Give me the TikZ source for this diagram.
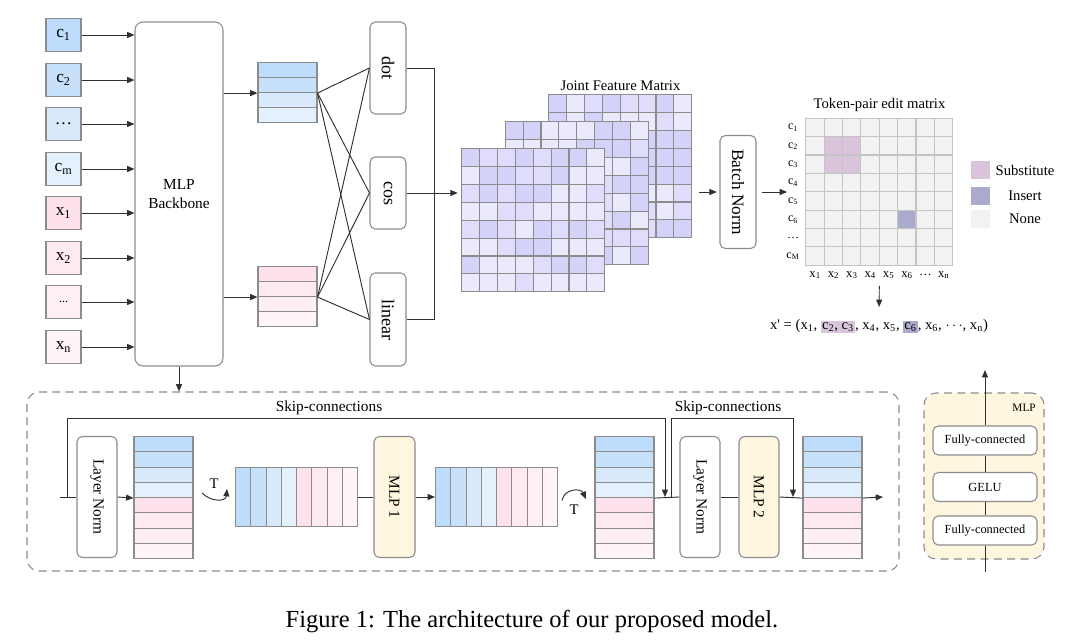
\documentclass[tikz,border=0pt]{standalone}
\usepackage{fontspec}
\setmainfont{Liberation Serif}
\usepackage{graphicx}
\usetikzlibrary{arrows.meta}

\definecolor{boxline}{HTML}{8C8C8C}
\definecolor{wire}{HTML}{303030}
\definecolor{bA}{HTML}{BEDCFB}
\definecolor{bB}{HTML}{C7E1FB}
\definecolor{bC}{HTML}{D8E9FC}
\definecolor{bD}{HTML}{E5F0FD}
\definecolor{pA}{HTML}{FDE2EE}
\definecolor{pB}{HTML}{FDE9F2}
\definecolor{pC}{HTML}{FEEEF5}
\definecolor{pD}{HTML}{FFF4F9}
\definecolor{lav1}{HTML}{D5D2FA}
\definecolor{lav2}{HTML}{DFDDFB}
\definecolor{lav3}{HTML}{EBEAFD}
\definecolor{cream}{HTML}{FEF6DE}
\definecolor{tmcell}{HTML}{F2F2F2}
\definecolor{tmline}{HTML}{C4C4C4}
\definecolor{subst}{HTML}{D9C4DC}
\definecolor{insrt}{HTML}{A9AACC}

\newdimen\px \px=0.75pt
\newcommand{\fsz}[1]{\fontsize{#1}{#1}\selectfont}
\newcommand{\hlsub}[1]{{\setlength{\fboxsep}{0.8pt}\colorbox{subst}{#1}}}
\newcommand{\hlins}[1]{{\setlength{\fboxsep}{0.8pt}\colorbox{insrt}{#1}}}

\begin{document}
\begin{tikzpicture}[
  x=0.75pt, y=-0.75pt,
  line/.style={draw=wire, line width=0.7pt},
  arr/.style={line, -{Triangle[length=5.5pt,width=4.5pt]}},
  tok/.style={draw=boxline, line width=0.8pt, minimum width=35\px, minimum height=33\px,
              inner sep=0pt, font=\fsz{13}},
  rbox/.style={draw=boxline, line width=0.8pt, rounded corners=4pt, fill=white, inner sep=0pt},
  cellv/.style={draw=boxline, line width=0.8pt, minimum width=59\px, minimum height=15.25\px,
                inner sep=0pt, anchor=north},
  cellh/.style={draw=boxline, line width=0.8pt, minimum width=15.25\px, minimum height=59\px,
                inner sep=0pt, anchor=west},
  fmat/.style={minimum size=143\px, inner sep=0pt, fill=lav2},
  lbl/.style={inner sep=1pt, font=\fsz{11.5}},
]
\useasboundingbox (0,0) rectangle (1065,640);

% inputs and backbone
\node[rbox, rounded corners=6pt, minimum width=88\px, minimum height=344\px, align=center,
      font=\fsz{11.5}] (bb) at (179,194) {MLP\\[3pt]Backbone};
\foreach \nm/\yy/\col/\txt in {c1/35/bA/c\textsubscript{1}, c2/80/bB/c\textsubscript{2},
    cd/124/bC/\dots, cm/169/bD/c\textsubscript{m}, x1/213/pA/x\textsubscript{1},
    x2/258/pB/x\textsubscript{2}, xd/302/pC/{\fsz{9}...}, xn/347/pD/x\textsubscript{n}}
  \node[tok, fill=\col] (\nm) at (63.5,\yy) {\txt};
\foreach \nm in {c1,c2,cd,cm,x1,x2,xd,xn}
  \draw[arr] (\nm) -- (\nm -| bb.west);

% token features after the backbone
\foreach \col [count=\r] in {bA,bB,bC,bD}
  \node[cellv, minimum height=15\px, fill=\col] (cf\r) at (287.5,{62+15*(\r-1)}) {};
\foreach \col [count=\r] in {pA,pB,pC,pD}
  \node[cellv, minimum height=15\px, fill=\col] (xf\r) at (287.5,{266+15*(\r-1)}) {};
\draw[arr] (bb.east |- cf2.south west) -- (cf2.south west);
\draw[arr] (bb.east |- xf2.south west) -- (xf2.south west);

% pairwise scores
\node[rbox, minimum width=36\px, minimum height=92\px, font=\fsz{13.5}] (dot) at (388,68) {\rotatebox{-90}{dot}};
\node[rbox, minimum width=36\px, minimum height=72\px, font=\fsz{13.5}] (cos) at (388,193) {\rotatebox{-90}{cos}};
\node[rbox, minimum width=36\px, minimum height=93\px, font=\fsz{13.5}] (lin) at (388,319.5) {\rotatebox{-90}{linear}};
\foreach \s in {cf2.south east, xf2.south east}
  \foreach \t in {dot,cos,lin}
    \draw[line] (\s) -- (\t.west);
\draw[line] (dot.east) -- ++(28,0) |- (lin.east);

% joint feature matrix (three stacked sheets)
\pgfmathsetseed{11}
\foreach \m/\cx/\cy in {3/620.5/166.5, 2/577/193.5, 1/533.5/220.5} {
  \node[fmat] (jm\m) at (\cx,\cy) {};
  \begin{scope}[shift={(jm\m.north west)}]
    \foreach \i in {0,...,7}
      \foreach \j in {0,...,7} {
        \pgfmathrandominteger{\k}{1}{3}
        \draw[draw=boxline, line width=0.8pt, fill=lav\k] ({\i*17.875},{\j*17.875}) rectangle ++(17.875,17.875);
      }
  \end{scope}
}
\node[lbl, font=\fsz{11}, above=2pt] (jmtitle) at (jm3.north) {Joint Feature Matrix};
\draw[arr, shorten >=3pt] (cos.east) -- (cos.east -| jm1.west);

\node[rbox, minimum width=36\px, minimum height=113\px, font=\fsz{13}] (bn) at (738,192) {\rotatebox{-90}{Batch Norm}};
\draw[arr, shorten <=5pt, shorten >=2pt] (jm3.east |- bn.west) -- (bn.west);

% token-pair edit matrix
\node[minimum size=147\px, inner sep=0pt] (tm) at (879.5,192) {};
\begin{scope}[shift={(tm.north west)}]
  \foreach \i in {0,...,7}
    \foreach \j in {0,...,7}
      \draw[draw=tmline, line width=0.8pt, fill=tmcell] ({\i*18.375},{\j*18.375}) rectangle ++(18.375,18.375);
  \foreach \i/\j in {1/1, 2/1, 1/2, 2/2}
    \draw[draw=tmline, line width=0.8pt, fill=subst] ({\i*18.375},{\j*18.375}) rectangle ++(18.375,18.375);
  \draw[draw=tmline, line width=0.8pt, fill=insrt] ({5*18.375},{5*18.375}) rectangle ++(18.375,18.375);
\end{scope}
\node[lbl, font=\fsz{11}, above=4pt] (tmtitle) at (tm.north) {Token-pair edit matrix};
\foreach \t [count=\r] in {c\textsubscript{1}, c\textsubscript{2}, c\textsubscript{3}, c\textsubscript{4},
    c\textsubscript{5}, c\textsubscript{6}, \dots, c\textsubscript{M}}
  \node[inner sep=0pt, font=\fsz{9}] (rl\r) at (793,{118.5+18.375*(\r-0.5)}) {\t};
\foreach \t [count=\r] in {x\textsubscript{1}, x\textsubscript{2}, x\textsubscript{3}, x\textsubscript{4},
    x\textsubscript{5}, x\textsubscript{6}, \dots, x\textsubscript{n}}
  \node[inner sep=0pt, font=\fsz{9.5}] (cl\r) at ({806+18.375*(\r-0.5)},275) {\t};
\draw[arr, shorten <=4pt, shorten >=14pt] (bn.east) -- (bn.east -| tm.west);

% legend
\foreach \nm/\yy/\col/\txt in {sub/170/subst/Substitute, ins/195.5/insrt/Insert, non/219/tmcell/None} {
  \node[minimum width=19\px, minimum height=18\px, inner sep=0pt, fill=\col] (lg\nm) at (980.5,\yy) {};
  \node[lbl, font=\fsz{11}] (lt\nm) at (1025,\yy) {\txt};
}

% edited sequence
\node[inner sep=1pt, font=\fsz{11}] (xp) at (879,326)
  {x\textquotesingle\ = (x\textsubscript{1}, \hlsub{c\textsubscript{2}, c\textsubscript{3}}, x\textsubscript{4},
   x\textsubscript{5}, \hlins{c\textsubscript{6}}, x\textsubscript{6}, $\cdots$, x\textsubscript{n})};
\draw[arr, shorten <=15pt, shorten >=8pt] (tm.south) -- (xp.north);

% mixer block
\node[draw=boxline, dashed, dash pattern=on 6pt off 4pt, rounded corners=9pt, line width=0.8pt,
      minimum width=872\px, minimum height=179\px] (blk) at (463,481.5) {};
\draw[arr] (bb.south) -- (bb.south |- blk.north);

\node[rbox, minimum width=40\px, minimum height=121\px, font=\fsz{11.5}] (ln1) at (97,497) {\rotatebox{-90}{Layer Norm}};
\foreach \col [count=\r] in {bA,bB,bC,bD,pA,pB,pC,pD}
  \node[cellv, fill=\col] (vA\r) at (163.5,{436+15.25*(\r-1)}) {};
\foreach \col [count=\r] in {bA,bB,bC,bD,pA,pB,pC,pD}
  \node[cellh, fill=\col] (hA\r) at ({235+15.25*(\r-1)},497) {};
\node[rbox, fill=cream, minimum width=41\px, minimum height=121\px, font=\fsz{11.5}] (mlp1) at (394.5,497) {\rotatebox{-90}{MLP 1}};
\foreach \col [count=\r] in {bA,bB,bC,bD,pA,pB,pC,pD}
  \node[cellh, fill=\col] (hB\r) at ({435+15.25*(\r-1)},497) {};
\foreach \col [count=\r] in {bA,bB,bC,bD,pA,pB,pC,pD}
  \node[cellv, fill=\col] (vB\r) at (624.5,{436+15.25*(\r-1)}) {};
\node[rbox, minimum width=40\px, minimum height=121\px, font=\fsz{11.5}] (ln2) at (700,497) {\rotatebox{-90}{Layer Norm}};
\node[rbox, fill=cream, minimum width=40\px, minimum height=121\px, font=\fsz{11.5}] (mlp2) at (759,497) {\rotatebox{-90}{MLP 2}};
\foreach \col [count=\r] in {bA,bB,bC,bD,pA,pB,pC,pD}
  \node[cellv, fill=\col] (vC\r) at (832.5,{436+15.25*(\r-1)}) {};

\coordinate (in0) at (60,497);
\coordinate (sk1a) at (67,497);
\coordinate (sk1b) at (665,497);
\coordinate (sk2a) at (671,497);
\coordinate (sk2b) at (793,497);
\coordinate (out0) at (883,497);

\draw[line] (in0) -- (ln1.west);
\draw[arr] (ln1.east) -- (vA4.south west);
\draw[line] (hA8.east) -- (mlp1.west);
\draw[arr] (mlp1.east) -- (hB1.west);
\draw[line] (vB4.south east) -- (ln2.west);
\draw[line] (ln2.east) -- (mlp2.west);
\draw[line] (mlp2.east) -- (vC4.south west);
\draw[arr] (vC4.south east) -- (out0);

% skip connections
\draw[arr] (sk1a) -- ++(0,-79) -| (sk1b);
\draw[arr] (sk2a) -- ++(0,-79) -| (sk2b);
\node[lbl] (skl1) at (329,408) {Skip-connections};
\node[lbl] (skl2) at (728,408) {Skip-connections};

% transposes
\coordinate (ta1) at (202,493);
\coordinate (tb1) at (227,489);
\draw[arr] (ta1) to[out=-45, in=-95, looseness=1.3] (tb1);
\node[lbl, font=\fsz{11}] (tl1) at (214,484) {T};
\coordinate (ta2) at (562,500.5);
\coordinate (tb2) at (586,499);
\draw[arr] (ta2) to[out=80, in=115, looseness=1.3] (tb2);
\node[lbl, font=\fsz{11}] (tl2) at (574,510) {T};

% MLP detail
\node[draw=boxline, dashed, dash pattern=on 6pt off 4pt, fill=cream, rounded corners=9pt, line width=0.8pt,
      minimum width=120\px, minimum height=166\px] (mlpbox) at (984,476) {};
\node[inner sep=0pt, font=\fsz{8.5}, anchor=east] (mlptag) at (1036,408) {MLP};
\node[rbox, minimum width=104\px, minimum height=29\px, font=\fsz{9.3}] (fc1) at (985,440.5) {Fully-connected};
\node[rbox, minimum width=104\px, minimum height=29\px, font=\fsz{9.3}] (gelu) at (985,487) {GELU};
\node[rbox, minimum width=104\px, minimum height=29\px, font=\fsz{9.3}] (fc2) at (985,530.5) {Fully-connected};
\coordinate (mlpin) at (985,572);
\coordinate (mlpout) at (985,370);
\draw[line] (mlpin) -- (fc2);
\draw[line] (fc2) -- (gelu);
\draw[line] (gelu) -- (fc1);
\draw[arr] (fc1) -- (mlpout);

% caption
\node[inner sep=0pt, font=\fsz{18.4}] (cap) at (532,622) {Figure 1: The architecture of our proposed model.};
\end{tikzpicture}
\end{document}
